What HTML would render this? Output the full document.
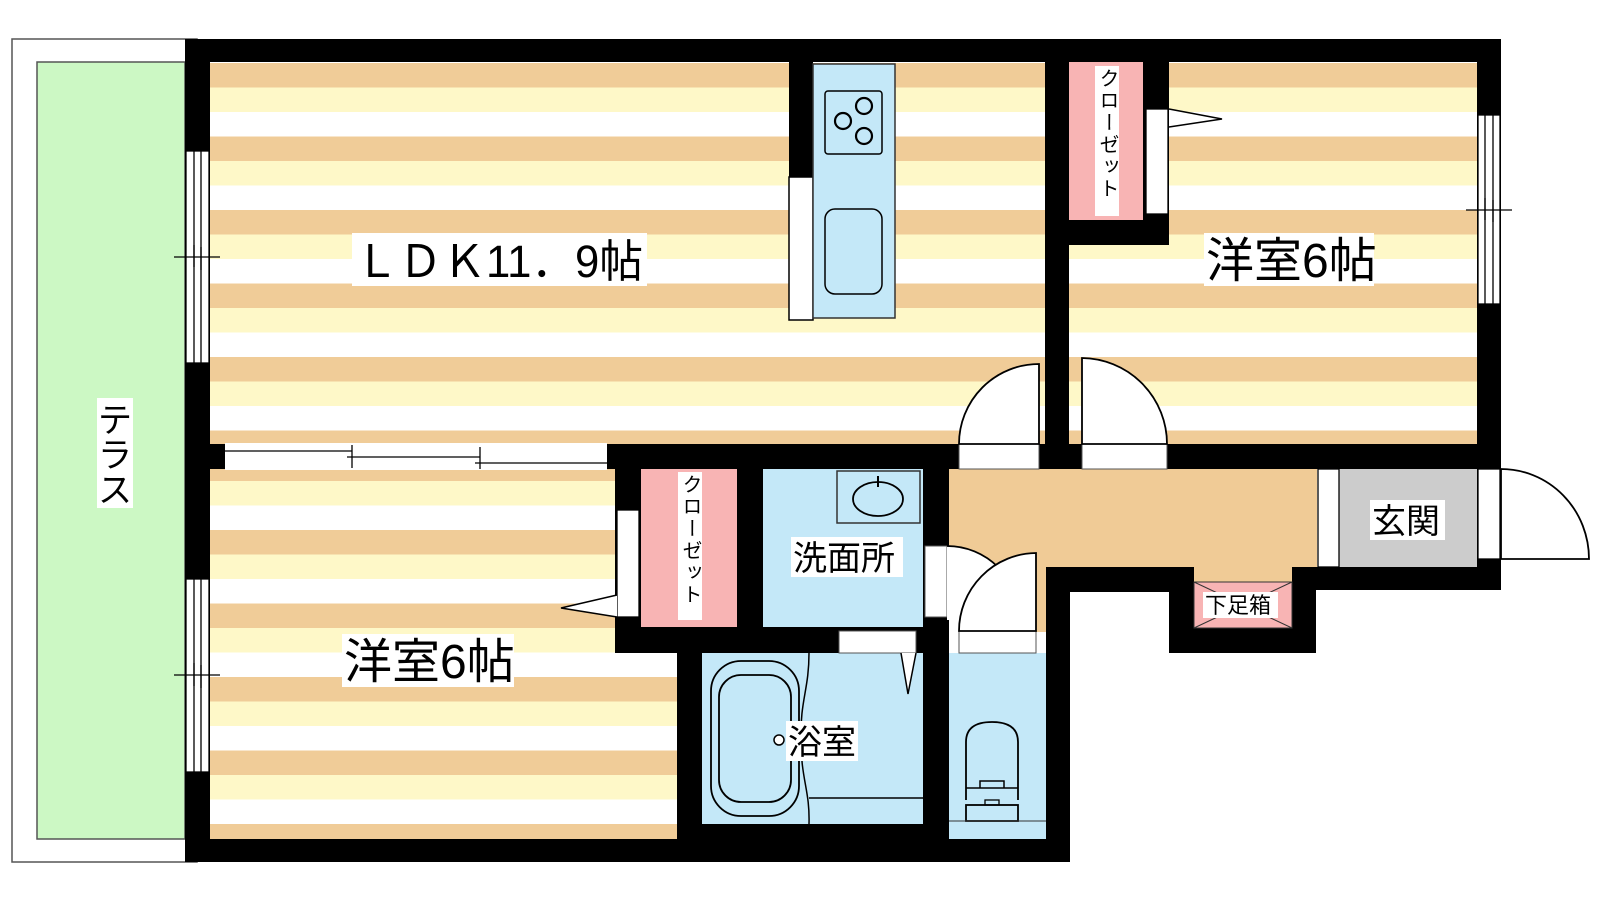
<!DOCTYPE html>
<html><head><meta charset="utf-8"><style>
html,body{margin:0;padding:0;background:#fff;}
svg{display:block;}
text{font-family:"Liberation Sans","Noto Sans CJK JP",sans-serif;fill:#000;}
</style></head><body>
<svg width="1600" height="900" viewBox="0 0 1600 900" xmlns="http://www.w3.org/2000/svg">
<defs>
<pattern id="st1" patternUnits="userSpaceOnUse" x="0" y="63" width="10" height="73.5">
<rect x="0" y="0" width="10" height="24.5" fill="#f0cc98"/><rect x="0" y="24.5" width="10" height="24.5" fill="#fef8c8"/><rect x="0" y="49" width="10" height="24.5" fill="#fff"/>
</pattern>
<pattern id="st2" patternUnits="userSpaceOnUse" x="0" y="15.5" width="10" height="73.5">
<rect x="0" y="0" width="10" height="24.5" fill="#f0cc98"/><rect x="0" y="24.5" width="10" height="24.5" fill="#fef8c8"/><rect x="0" y="49" width="10" height="24.5" fill="#fff"/>
</pattern>
</defs>
<rect x="12" y="39" width="185" height="823" fill="#fff" stroke="#555" stroke-width="1.5"/>
<rect x="37" y="62" width="148" height="777" fill="#ccf8c4" stroke="#555" stroke-width="1.5"/>
<rect x="210" y="62" width="835" height="382" fill="url(#st1)"/>
<rect x="1069" y="62" width="408" height="382" fill="url(#st1)"/>
<rect x="210" y="469" width="467" height="370" fill="url(#st2)"/>
<rect x="641" y="469" width="96" height="158" fill="#f8b4b4"/>
<rect x="763" y="469" width="160" height="158" fill="#c4e8f8"/>
<rect x="949" y="469" width="368" height="98" fill="#f0cb96"/>
<rect x="1190" y="560" width="106" height="24" fill="#f0cb96"/>
<rect x="1022" y="560" width="24" height="72" fill="#f0cb96"/>
<rect x="1339" y="469" width="138" height="98" fill="#cccccc"/>
<rect x="702" y="653" width="221" height="171" fill="#c4e8f8"/>
<rect x="949" y="653" width="97" height="186" fill="#c4e8f8"/>
<rect x="1069" y="62" width="74" height="158" fill="#f8b4b4"/>
<rect x="1194" y="582" width="98" height="46" fill="#f8b4b4"/>
<g fill="#000">
<rect x="185" y="39" width="1316" height="23"/>
<rect x="185" y="39" width="25" height="823"/>
<rect x="185" y="839" width="885" height="23"/>
<rect x="702" y="824" width="221" height="15"/>
<rect x="1477" y="39" width="24" height="551"/>
<rect x="1045" y="39" width="24" height="430"/>
<rect x="1143" y="62" width="26" height="183"/>
<rect x="1045" y="220" width="124" height="25"/>
<rect x="185" y="444" width="1316" height="25"/>
<rect x="615" y="444" width="26" height="209"/>
<rect x="737" y="469" width="26" height="184"/>
<rect x="615" y="627" width="334" height="26"/>
<rect x="677" y="627" width="25" height="235"/>
<rect x="923" y="469" width="26" height="393"/>
<rect x="1046" y="567" width="24" height="295"/>
<rect x="1046" y="567" width="123" height="25"/>
<rect x="1169" y="567" width="25" height="86"/>
<rect x="1169" y="628" width="147" height="25"/>
<rect x="1292" y="567" width="24" height="86"/>
<rect x="1292" y="567" width="209" height="23"/>
<rect x="789" y="62" width="24" height="115"/>
</g>
<g stroke="#000" stroke-width="1.3" fill="#fff">
<rect x="186" y="151" width="23" height="212"/>
<line x1="194" y1="151" x2="194" y2="363"/><line x1="201" y1="151" x2="201" y2="363"/>
<line x1="174" y1="257" x2="220" y2="257"/><line x1="194" y1="245" x2="194" y2="267"/><line x1="201" y1="247" x2="201" y2="270"/>
<rect x="186" y="579" width="23" height="193"/>
<line x1="194" y1="579" x2="194" y2="772"/><line x1="201" y1="579" x2="201" y2="772"/>
<line x1="174" y1="675" x2="220" y2="675"/><line x1="194" y1="663" x2="194" y2="686"/><line x1="201" y1="665" x2="201" y2="688"/>
<rect x="1478" y="115" width="22" height="189"/>
<line x1="1485" y1="115" x2="1485" y2="304"/><line x1="1493" y1="115" x2="1493" y2="304"/>
<line x1="1466" y1="210" x2="1512" y2="210"/><line x1="1485" y1="198" x2="1485" y2="220"/><line x1="1493" y1="200" x2="1493" y2="222"/>
</g>
<rect x="225" y="443" width="382" height="27" fill="#fff"/>
<g stroke="#000" stroke-width="1.3">
<line x1="225" y1="451" x2="352" y2="451"/><line x1="347" y1="457" x2="480" y2="457"/><line x1="475" y1="463" x2="607" y2="463"/>
<line x1="352" y1="445" x2="352" y2="468"/><line x1="480" y1="447" x2="480" y2="469"/>
</g>
<rect x="789" y="177" width="24" height="143" fill="#fff" stroke="#000" stroke-width="1.5"/>
<rect x="813" y="64" width="82" height="254" fill="#c4e8f8" stroke="#333" stroke-width="1.5"/>
<rect x="825" y="91" width="57" height="63" rx="3" fill="none" stroke="#000" stroke-width="1.5"/>
<g fill="none" stroke="#000" stroke-width="2.2">
<circle cx="864" cy="106" r="8"/><circle cx="843" cy="121" r="8"/><circle cx="864" cy="136" r="8"/>
</g>
<rect x="825" y="209" width="57" height="85" rx="10" fill="none" stroke="#000" stroke-width="1.5"/>
<rect x="959" y="444" width="80" height="25" fill="#fff" stroke="#555" stroke-width="1"/>
<path d="M1039,444 L1039,364 A80,80 0 0 0 959,444 Z" fill="#fff" stroke="#000" stroke-width="1.8"/>
<rect x="1082" y="444" width="85" height="25" fill="#fff" stroke="#555" stroke-width="1"/>
<path d="M1082,444 L1082,358 A86,86 0 0 1 1167,444 Z" fill="#fff" stroke="#000" stroke-width="1.8"/>
<rect x="1146" y="109" width="22" height="105" fill="#fff" stroke="#000" stroke-width="1.3"/>
<path d="M1169,109 L1222,119 L1169,127" fill="#fff" stroke="#000" stroke-width="1.5"/>
<rect x="617" y="510" width="22" height="107" fill="#fff" stroke="#000" stroke-width="1.3"/>
<path d="M617,595 L561,608 L617,617" fill="#fff" stroke="#000" stroke-width="1.5"/>
<rect x="837" y="471" width="83" height="52" fill="none" stroke="#333" stroke-width="1.5"/>
<ellipse cx="878" cy="499" rx="25" ry="17" fill="none" stroke="#000" stroke-width="1.8"/>
<line x1="878" y1="476" x2="878" y2="487" stroke="#000" stroke-width="2"/>
<rect x="925" y="546" width="22" height="71" fill="#fff" stroke="#555" stroke-width="1"/>
<path d="M947,546 A72,72 0 0 1 998,567 L998,620 L947,620 Z" fill="#fff" stroke="none"/>
<path d="M947,546 A72,72 0 0 1 998,567" fill="none" stroke="#000" stroke-width="1.8"/>
<rect x="959" y="631" width="77" height="22" fill="#fff" stroke="#555" stroke-width="1"/>
<path d="M1036,631 L1036,553 A78,78 0 0 0 959,631 Z" fill="#fff" stroke="#000" stroke-width="1.8"/>
<rect x="839" y="631" width="77" height="22" fill="#fff" stroke="#555" stroke-width="1"/>
<path d="M901,653 L908,694 L916,653" fill="#fff" stroke="#000" stroke-width="1.5"/>
<rect x="711" y="661" width="88" height="155" rx="30" fill="none" stroke="#000" stroke-width="1.8"/>
<rect x="719" y="675" width="72" height="127" rx="22" fill="none" stroke="#000" stroke-width="1.8"/>
<path d="M809,653 C809,690 800,700 801,740 C801,780 810,790 809,824" fill="none" stroke="#000" stroke-width="1.5"/>
<line x1="809" y1="798" x2="923" y2="798" stroke="#000" stroke-width="1.5"/>
<circle cx="779" cy="740" r="5" fill="#fff" stroke="#000" stroke-width="1.5"/>
<path d="M966,800 L966,742 Q966,722 992,722 Q1018,722 1018,742 L1018,800" fill="none" stroke="#000" stroke-width="1.8"/>
<line x1="966" y1="788" x2="1018" y2="788" stroke="#000" stroke-width="1.5"/>
<path d="M980,788 L980,781 L1004,781 L1004,788" fill="none" stroke="#000" stroke-width="1.5"/>
<rect x="985" y="800" width="14" height="5" fill="none" stroke="#000" stroke-width="1.3"/>
<rect x="966" y="805" width="52" height="16" fill="none" stroke="#000" stroke-width="1.8"/>
<line x1="949" y1="821" x2="1046" y2="821" stroke="#333" stroke-width="1"/>
<g stroke="#333" stroke-width="1"><rect x="1194" y="582" width="98" height="46" fill="none"/><line x1="1194" y1="582" x2="1292" y2="628"/><line x1="1292" y1="582" x2="1194" y2="628"/></g>
<rect x="1318" y="469" width="21" height="98" fill="#fff" stroke="#000" stroke-width="1.3"/>
<rect x="1478" y="469" width="22" height="90" fill="#fff" stroke="#000" stroke-width="1.3"/>
<path d="M1501,469 A88,90 0 0 1 1589,559 L1501,559 Z" fill="#fff" stroke="#000" stroke-width="1.8"/>
<rect x="352" y="233" width="295" height="53" fill="#fff"/>
<text x="355" y="277" font-size="45" textLength="288" lengthAdjust="spacingAndGlyphs">ＬＤＫ11．9帖</text>
<rect x="1204" y="233" width="170" height="53" fill="#fff"/>
<text x="1206" y="277" font-size="48">洋室6帖</text>
<rect x="342" y="634" width="172" height="53" fill="#fff"/>
<text x="344" y="678" font-size="48">洋室6帖</text>
<rect x="97" y="398" width="36" height="110" fill="#fff"/>
<text x="115" y="432" font-size="34" text-anchor="middle">テ</text>
<text x="115" y="467" font-size="34" text-anchor="middle">ラ</text>
<text x="115" y="502" font-size="34" text-anchor="middle">ス</text>
<rect x="1095" y="66" width="24" height="150" fill="#fff"/>
<text x="1107" y="68" font-size="20" style="writing-mode:vertical-rl;text-orientation:upright;letter-spacing:2px">クローゼット</text>
<rect x="678" y="472" width="24" height="148" fill="#fff"/>
<text x="690" y="474" font-size="20" style="writing-mode:vertical-rl;text-orientation:upright;letter-spacing:2px">クローゼット</text>
<rect x="791" y="537" width="112" height="40" fill="#fff"/>
<text x="793" y="570" font-size="34">洗面所</text>
<rect x="786" y="721" width="72" height="40" fill="#fff"/>
<text x="788" y="754" font-size="34">浴室</text>
<rect x="1370" y="500" width="75" height="40" fill="#fff"/>
<text x="1372" y="533" font-size="34">玄関</text>
<rect x="1203" y="592" width="75" height="26" fill="#fff"/>
<text x="1205" y="613" font-size="22">下足箱</text>
</svg>
</body></html>
